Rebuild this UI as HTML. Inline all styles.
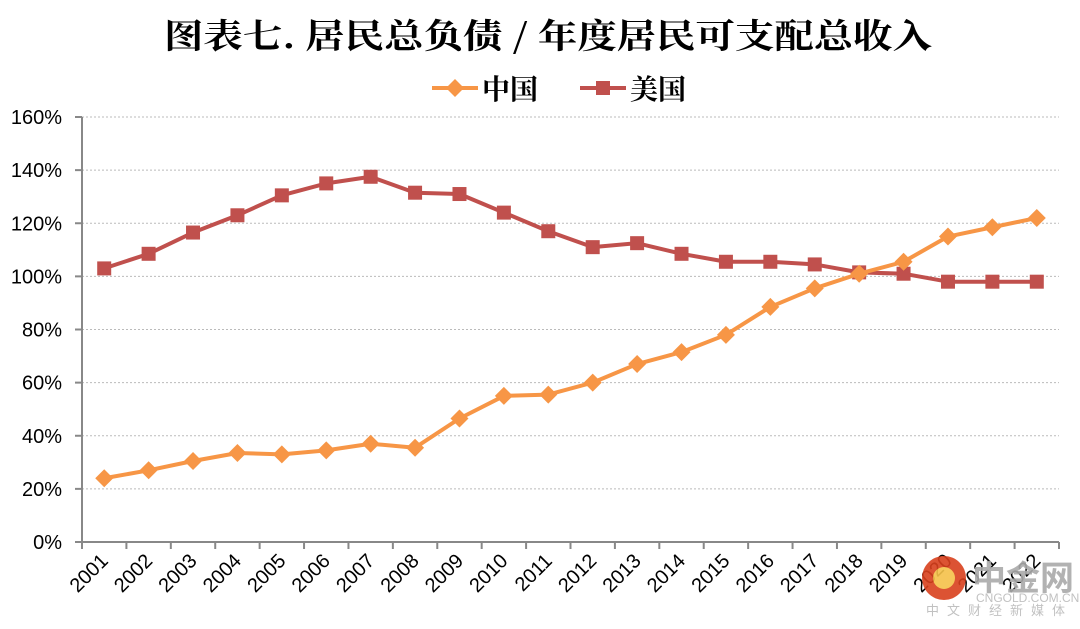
<!DOCTYPE html>
<html><head><meta charset="utf-8"><style>
body{margin:0;background:#fff;}
svg{display:block;}
text{font-family:"Liberation Sans","Noto Sans CJK SC",sans-serif;}
</style></head><body>
<svg id="chart" width="1080" height="629" viewBox="0 0 1080 629" xmlns="http://www.w3.org/2000/svg">
<text x="548" y="48" text-anchor="middle" font-size="34" font-weight="bold" textLength="768" lengthAdjust="spacingAndGlyphs" style="font-family:'Noto Serif CJK SC','Noto Sans CJK SC',serif">图表七. 居民总负债 / 年度居民可支配总收入</text>
<g>
<g>
<line x1="432" y1="88" x2="478" y2="88" stroke="#F79646" stroke-width="4"/>
<polygon points="455,79 464,88 455,97 446,88" fill="#F79646"/>
<text x="482" y="99" font-size="28" font-weight="bold" style="font-family:'Noto Serif CJK SC',serif">中国</text>
</g>
<g>
<line x1="580" y1="88" x2="626" y2="88" stroke="#C0504D" stroke-width="4"/>
<rect x="596" y="81" width="14" height="14" fill="#C0504D"/>
<text x="630" y="99" font-size="28" font-weight="bold" style="font-family:'Noto Serif CJK SC',serif">美国</text>
</g>
</g>
<g id="grid"></g><g id="axes"></g><g id="series"></g>
<g opacity="0.9">
<circle cx="944" cy="578" r="22" fill="#D9411E"/>
<circle cx="944" cy="578" r="11" fill="#F6C24A"/>
<text x="972" y="590" font-size="34" font-weight="bold" fill="#aaa" style="font-family:'Noto Sans CJK SC',sans-serif">中金网</text>
<text x="976" y="602" font-size="12" fill="#bbb">CNGOLD.COM.CN</text>
<text x="926" y="615" font-size="13" fill="#bbb" letter-spacing="8" style="font-family:'Noto Sans CJK SC',sans-serif">中文财经新媒体</text>
</g>
</svg>
<script>
const years=["2001","2002","2003","2004","2005","2006","2007","2008","2009","2010","2011","2012","2013","2014","2015","2016","2017","2018","2019","2020","2021","2022"];
const china=[24,27,30.5,33.5,33,34.5,37,35.5,46.5,55,55.5,60,67,71.5,78,88.5,95.5,101,105.5,115,118.5,122];
const usa=[103,108.5,116.5,123,130.5,135,137.5,131.5,131,124,117,111,112.5,108.5,105.5,105.5,104.5,101.5,101,98,98,98];
const yTicks=[0,20,40,60,80,100,120,140,160];
const NS="http://www.w3.org/2000/svg";
const L=82,R=1059,T=117,B=542;
const bw=(R-L)/years.length;
const x=i=>L+bw*(i+0.5);
const y=v=>B-(v/160)*(B-T);
function mk(tag,attrs,parent){const e=document.createElementNS(NS,tag);for(const k in attrs)e.setAttribute(k,attrs[k]);parent.appendChild(e);return e;}
const grid=document.getElementById('grid'),axes=document.getElementById('axes'),ser=document.getElementById('series');
yTicks.forEach(t=>{
  if(t>0){const g=mk('line',{x1:L,x2:R,y1:y(t),y2:y(t),stroke:'#bbb','stroke-dasharray':'2,2'},grid);
  
  }
  mk('line',{x1:75,x2:L,y1:y(t),y2:y(t),stroke:'#888','stroke-width':2},axes);
  const tx=mk('text',{x:62,y:y(t)+7,'text-anchor':'end','font-size':20},axes);
  tx.textContent=t+'%';
  
  
});
const ya=mk('line',{x1:L,x2:L,y1:T,y2:B,stroke:'#888','stroke-width':2},axes);


const xa=mk('line',{x1:L,x2:R,y1:B,y2:B,stroke:'#888','stroke-width':2},axes);


for(let i=0;i<=years.length;i++)mk('line',{x1:L+bw*i,x2:L+bw*i,y1:B,y2:B+7,stroke:'#888','stroke-width':2},axes);
years.forEach((yr,i)=>{
  const cx=x(i)+5,cy=562;
  const t=mk('text',{x:cx,y:cy,'text-anchor':'end','font-size':20,transform:`rotate(-45 ${cx} ${cy})`},axes);
  t.textContent=yr;
  
  
});
function draw(vals,color,shape,name){
  const p=mk('polyline',{points:vals.map((v,i)=>x(i)+','+y(v)).join(' '),fill:'none',stroke:color,'stroke-width':4,'stroke-linejoin':'round'},ser);
  
  
  vals.forEach((v,i)=>{
    const cx=x(i),cy=y(v);let m;
    if(shape==='d')m=mk('polygon',{points:`${cx},${cy-9} ${cx+9},${cy} ${cx},${cy+9} ${cx-9},${cy}`,fill:color},ser);
    else m=mk('rect',{x:cx-7,y:cy-7,width:14,height:14,fill:color},ser);
    
    
  });
}
draw(usa,'#C0504D','s','usa');
draw(china,'#F79646','d','china');
</script>
</body></html>
